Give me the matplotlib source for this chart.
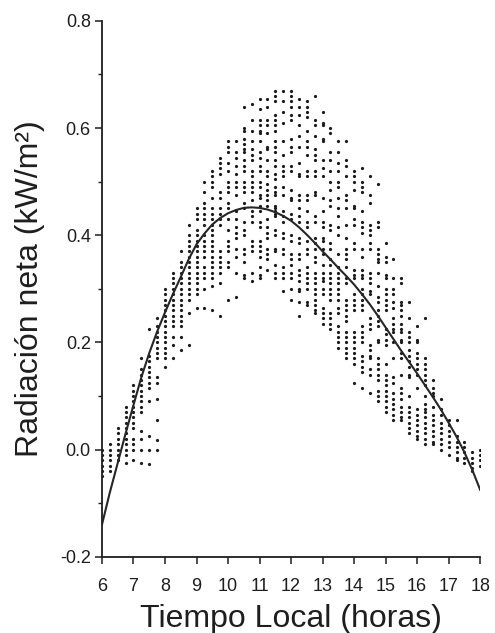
import matplotlib
matplotlib.use("Agg")
import matplotlib.pyplot as plt
from matplotlib.ticker import MultipleLocator

plt.rcParams['font.family'] = ['Liberation Sans', 'DejaVu Sans']

# ---- data: net radiation per 15-min time column (kW/m2) ----
h0600 = [0.0, -0.01, -0.02, -0.03, -0.04, -0.05]
h0615 = [0.01, 0.0, -0.01, -0.02, -0.03, -0.04]
h0630 = [0.04, 0.03, 0.02, 0.01, 0.0, -0.01, -0.02]
h0645 = [0.08, 0.07, 0.06, 0.05, 0.04, 0.03, 0.02, 0.01, 0.0, -0.01, -0.025]
h0700 = [0.12, 0.11, 0.10, 0.09, 0.08, 0.07, 0.06, 0.05, 0.04, 0.02, 0.01, 0.0, -0.02]
h0715 = [0.17, 0.15, 0.14, 0.13, 0.12, 0.11, 0.10, 0.09, 0.08, 0.07, 0.035, 0.02, 0.0, -0.025]
h0730 = [0.225, 0.175, 0.165, 0.155, 0.145, 0.135, 0.125, 0.115, 0.09, 0.025, 0.0, -0.027]
h0745 = [0.245, 0.23, 0.22, 0.21, 0.20, 0.19, 0.18, 0.17, 0.135, 0.125, 0.095, 0.055, 0.017, 0.0]
h0800 = [0.30, 0.29, 0.28, 0.27, 0.26, 0.25, 0.24, 0.23, 0.22, 0.21, 0.20, 0.19, 0.18, 0.17, 0.155]
h0815 = [0.33, 0.32, 0.31, 0.30, 0.29, 0.28, 0.27, 0.26, 0.25, 0.24, 0.23, 0.21, 0.195, 0.17]
h0830 = [0.37, 0.35, 0.34, 0.33, 0.32, 0.31, 0.30, 0.29, 0.28, 0.27, 0.26, 0.25, 0.24, 0.23, 0.21, 0.185]
h0845 = [0.42, 0.40, 0.39, 0.38, 0.37, 0.36, 0.35, 0.34, 0.33, 0.32, 0.31, 0.30, 0.29, 0.28, 0.255, 0.195]
h0900 = [0.45, 0.44, 0.43, 0.41, 0.40, 0.39, 0.38, 0.37, 0.36, 0.35, 0.34, 0.33, 0.32, 0.31, 0.30, 0.29, 0.265]
h0915 = [0.50, 0.48, 0.46, 0.45, 0.44, 0.43, 0.42, 0.40, 0.39, 0.38, 0.37, 0.36, 0.34, 0.33, 0.32, 0.30, 0.265]
h0930 = [0.52, 0.51, 0.50, 0.49, 0.47, 0.45, 0.44, 0.43, 0.42, 0.41, 0.40, 0.39, 0.38, 0.37, 0.36, 0.35, 0.34,
         0.33, 0.32, 0.305, 0.26]
h0945 = [0.545, 0.535, 0.525, 0.515, 0.48, 0.47, 0.45, 0.44, 0.43, 0.42, 0.37, 0.36, 0.35, 0.34, 0.33, 0.31, 0.25]
h1000 = [0.575, 0.565, 0.555, 0.535, 0.52, 0.50, 0.49, 0.48, 0.46, 0.45, 0.43, 0.41, 0.39, 0.38, 0.37, 0.35,
         0.34, 0.28]
h1015 = [0.575, 0.555, 0.545, 0.53, 0.515, 0.50, 0.49, 0.475, 0.445, 0.43, 0.415, 0.405, 0.395, 0.375, 0.36,
         0.33, 0.285]
h1030 = [0.64, 0.60, 0.595, 0.58, 0.57, 0.56, 0.555, 0.54, 0.53, 0.52, 0.50, 0.49, 0.48, 0.46, 0.45, 0.425,
         0.41, 0.40, 0.375, 0.365, 0.35, 0.325, 0.32]
h1045 = [0.645, 0.615, 0.595, 0.575, 0.56, 0.55, 0.54, 0.52, 0.51, 0.50, 0.49, 0.48, 0.465, 0.445, 0.435,
         0.425, 0.39, 0.38, 0.37, 0.33, 0.315]
h1100 = [0.655, 0.635, 0.615, 0.605, 0.595, 0.59, 0.575, 0.555, 0.545, 0.53, 0.52, 0.50, 0.49, 0.475, 0.47,
         0.455, 0.445, 0.425, 0.415, 0.39, 0.38, 0.37, 0.36, 0.34, 0.325, 0.32]
h1115 = [0.655, 0.64, 0.615, 0.605, 0.59, 0.565, 0.56, 0.54, 0.52, 0.51, 0.495, 0.485, 0.475, 0.465, 0.455,
         0.43, 0.415, 0.405, 0.395, 0.375, 0.365, 0.355, 0.335]
h1130 = [0.67, 0.66, 0.65, 0.625, 0.615, 0.605, 0.595, 0.575, 0.565, 0.555, 0.54, 0.53, 0.515, 0.505, 0.49,
         0.48, 0.475, 0.455, 0.45, 0.445, 0.44, 0.435, 0.41, 0.40, 0.375, 0.37, 0.345, 0.33, 0.32]
h1145 = [0.67, 0.65, 0.63, 0.61, 0.575, 0.55, 0.53, 0.52, 0.51, 0.49, 0.475, 0.445, 0.435, 0.425, 0.405,
         0.395, 0.375, 0.365, 0.34, 0.33, 0.32, 0.295]
h1200 = [0.67, 0.66, 0.65, 0.64, 0.625, 0.615, 0.58, 0.565, 0.555, 0.53, 0.52, 0.485, 0.47, 0.465, 0.44,
         0.43, 0.40, 0.39, 0.365, 0.355, 0.345, 0.33, 0.32, 0.30, 0.28]
h1215 = [0.655, 0.64, 0.625, 0.605, 0.585, 0.565, 0.535, 0.515, 0.51, 0.475, 0.465, 0.45, 0.435, 0.425,
         0.395, 0.385, 0.365, 0.355, 0.335, 0.325, 0.315, 0.30, 0.295, 0.275, 0.25]
h1230 = [0.65, 0.64, 0.63, 0.62, 0.595, 0.575, 0.565, 0.55, 0.52, 0.51, 0.475, 0.465, 0.445, 0.425, 0.415,
         0.39, 0.375, 0.365, 0.34, 0.33, 0.32, 0.31, 0.30, 0.275, 0.27]
h1245 = [0.66, 0.615, 0.605, 0.585, 0.56, 0.55, 0.54, 0.52, 0.51, 0.48, 0.475, 0.435, 0.425, 0.395, 0.385,
         0.375, 0.36, 0.35, 0.33, 0.32, 0.31, 0.30, 0.29, 0.28, 0.27, 0.26, 0.255]
h1300 = [0.63, 0.61, 0.605, 0.58, 0.575, 0.54, 0.525, 0.51, 0.47, 0.445, 0.425, 0.415, 0.395, 0.39, 0.375,
         0.365, 0.345, 0.33, 0.32, 0.315, 0.30, 0.29, 0.265, 0.255, 0.245, 0.235]
h1315 = [0.60, 0.59, 0.555, 0.54, 0.52, 0.50, 0.485, 0.465, 0.455, 0.42, 0.41, 0.385, 0.375, 0.355, 0.345,
         0.33, 0.32, 0.31, 0.30, 0.29, 0.28, 0.255, 0.245, 0.235, 0.225]
h1330 = [0.575, 0.555, 0.535, 0.52, 0.50, 0.49, 0.47, 0.45, 0.435, 0.415, 0.40, 0.365, 0.34, 0.33, 0.32,
         0.31, 0.30, 0.29, 0.28, 0.265, 0.255, 0.23, 0.22, 0.21, 0.20, 0.19]
h1345 = [0.575, 0.54, 0.53, 0.51, 0.475, 0.465, 0.45, 0.42, 0.395, 0.375, 0.365, 0.355, 0.34, 0.32, 0.31,
         0.28, 0.27, 0.26, 0.25, 0.24, 0.22, 0.21, 0.20, 0.19, 0.18, 0.17]
h1400 = [0.52, 0.51, 0.50, 0.485, 0.455, 0.45, 0.43, 0.42, 0.385, 0.375, 0.335, 0.325, 0.32, 0.29, 0.28,
         0.27, 0.26, 0.22, 0.21, 0.20, 0.19, 0.18, 0.17, 0.16, 0.125]
h1415 = [0.525, 0.50, 0.49, 0.48, 0.445, 0.425, 0.415, 0.405, 0.375, 0.36, 0.335, 0.325, 0.32, 0.30, 0.29,
         0.28, 0.27, 0.26, 0.23, 0.22, 0.21, 0.20, 0.175, 0.165, 0.155, 0.145, 0.115]
h1430 = [0.51, 0.475, 0.46, 0.42, 0.41, 0.40, 0.385, 0.375, 0.33, 0.32, 0.31, 0.295, 0.29, 0.245, 0.235,
         0.225, 0.195, 0.185, 0.175, 0.17, 0.15, 0.14, 0.105]
h1445 = [0.495, 0.425, 0.415, 0.375, 0.365, 0.355, 0.35, 0.33, 0.305, 0.285, 0.275, 0.26, 0.25, 0.24, 0.23,
         0.205, 0.20, 0.17, 0.16, 0.15, 0.14, 0.13, 0.11, 0.10, 0.09]
h1500 = [0.385, 0.36, 0.35, 0.325, 0.32, 0.30, 0.29, 0.28, 0.27, 0.26, 0.225, 0.215, 0.205, 0.195, 0.16,
         0.14, 0.13, 0.12, 0.11, 0.10, 0.09, 0.08, 0.07]
h1515 = [0.355, 0.32, 0.30, 0.29, 0.275, 0.265, 0.245, 0.235, 0.225, 0.22, 0.20, 0.17, 0.135, 0.125, 0.105,
         0.095, 0.085, 0.075, 0.065, 0.055]
h1530 = [0.32, 0.31, 0.275, 0.27, 0.26, 0.25, 0.235, 0.225, 0.22, 0.205, 0.20, 0.18, 0.17, 0.14, 0.115,
         0.105, 0.095, 0.08, 0.07, 0.06, 0.055]
h1545 = [0.275, 0.245, 0.22, 0.21, 0.20, 0.185, 0.175, 0.165, 0.155, 0.14, 0.135, 0.10, 0.08, 0.07, 0.06,
         0.05, 0.04, 0.03]
h1600 = [0.23, 0.205, 0.20, 0.18, 0.17, 0.16, 0.15, 0.14, 0.115, 0.075, 0.065, 0.055, 0.045, 0.035, 0.025, 0.02]
h1615 = [0.245, 0.17, 0.16, 0.15, 0.14, 0.13, 0.12, 0.10, 0.085, 0.075, 0.07, 0.06, 0.05, 0.04, 0.03, 0.02, 0.01]
h1630 = [0.13, 0.115, 0.105, 0.10, 0.08, 0.065, 0.055, 0.045, 0.035, 0.025, 0.015, 0.01]
h1645 = [0.095, 0.075, 0.065, 0.05, 0.04, 0.03, 0.02, 0.01, 0.0]
h1700 = [0.055, 0.045, 0.035, 0.025, 0.015, 0.005, -0.01]
h1715 = [0.055, 0.025, 0.015, 0.005, -0.005, -0.015, -0.02]
h1730 = [0.015, 0.005, -0.005, -0.015, -0.025]
h1745 = [-0.005, -0.015, -0.025, -0.035, -0.04]
h1800 = [0.0, -0.01, -0.02, -0.03]

columnas = [
    (6.00, h0600), (6.25, h0615), (6.50, h0630), (6.75, h0645),
    (7.00, h0700), (7.25, h0715), (7.50, h0730), (7.75, h0745),
    (8.00, h0800), (8.25, h0815), (8.50, h0830), (8.75, h0845),
    (9.00, h0900), (9.25, h0915), (9.50, h0930), (9.75, h0945),
    (10.00, h1000), (10.25, h1015), (10.50, h1030), (10.75, h1045),
    (11.00, h1100), (11.25, h1115), (11.50, h1130), (11.75, h1145),
    (12.00, h1200), (12.25, h1215), (12.50, h1230), (12.75, h1245),
    (13.00, h1300), (13.25, h1315), (13.50, h1330), (13.75, h1345),
    (14.00, h1400), (14.25, h1415), (14.50, h1430), (14.75, h1445),
    (15.00, h1500), (15.25, h1515), (15.50, h1530), (15.75, h1545),
    (16.00, h1600), (16.25, h1615), (16.50, h1630), (16.75, h1645),
    (17.00, h1700), (17.25, h1715), (17.50, h1730), (17.75, h1745),
    (18.00, h1800),
]

# fitted curve (every 15 min)
curva_h = [6.0, 6.25, 6.5, 6.75, 7.0, 7.25, 7.5, 7.75, 8.0, 8.25, 8.5, 8.75,
           9.0, 9.25, 9.5, 9.75, 10.0, 10.25, 10.5, 10.75, 11.0, 11.25, 11.5, 11.75,
           12.0, 12.25, 12.5, 12.75, 13.0, 13.25, 13.5, 13.75, 14.0, 14.25, 14.5, 14.75,
           15.0, 15.25, 15.5, 15.75, 16.0, 16.25, 16.5, 16.75, 17.0, 17.25, 17.5, 17.75, 18.0]
curva_v = [-0.14, -0.08, -0.025, 0.03, 0.083, 0.135, 0.18, 0.22, 0.256, 0.29, 0.322, 0.355,
           0.383, 0.403, 0.42, 0.432, 0.441, 0.447, 0.451, 0.452, 0.451, 0.448, 0.443, 0.436,
           0.427, 0.415, 0.401, 0.386, 0.37, 0.355, 0.339, 0.324, 0.308, 0.29, 0.271, 0.25,
           0.228, 0.206, 0.184, 0.163, 0.142, 0.12, 0.098, 0.075, 0.05, 0.024, -0.005, -0.038, -0.075]

x_ticks = [6, 7, 8, 9, 10, 11, 12, 13, 14, 15, 16, 17, 18]
y_ticks = [-0.2, 0.0, 0.2, 0.4, 0.6, 0.8]

ink = '#1e1e1e'

fig = plt.figure(figsize=(4.95, 6.33), dpi=100)
ax = fig.add_axes([0.206, 0.1205, 0.764, 0.8465])

xs, ys = [], []
for h, vals in columnas:
    xs.extend([h] * len(vals))
    ys.extend(vals)
ax.plot(xs, ys, linestyle='none', marker='o', markersize=2.3, markeredgewidth=0,
        color='#1a1a1a')

ax.plot(curva_h, curva_v, color='#262626', linewidth=1.5, solid_joinstyle='round')

ax.set_xlim(6, 18)
ax.set_ylim(-0.2, 0.8)
ax.set_xticks(x_ticks)
ax.set_yticks(y_ticks)
ax.set_xticklabels([str(t) for t in x_ticks])
ax.set_yticklabels(['-0.2', '0.0', '0.2', '0.4', '0.6', '0.8'])
ax.yaxis.set_minor_locator(MultipleLocator(0.1))

for s in ['top', 'right']:
    ax.spines[s].set_visible(False)
for s in ['left', 'bottom']:
    ax.spines[s].set_linewidth(1.3)
    ax.spines[s].set_color(ink)

ax.tick_params(axis='both', which='major', direction='out', length=5, width=1.1,
               color=ink, labelcolor=ink, labelsize=13)
ax.tick_params(axis='y', which='minor', direction='out', length=3, width=1.0, color=ink)
ax.tick_params(axis='x', which='major', pad=10)
ax.tick_params(axis='y', which='major', pad=3)

ax.set_xlabel('Tiempo Local (horas)', fontsize=23, color=ink, labelpad=7)
ax.set_ylabel('Radiación neta (kW/m²)', fontsize=23, color=ink, labelpad=11)

fig.savefig('out.png', dpi=100, facecolor='white')
